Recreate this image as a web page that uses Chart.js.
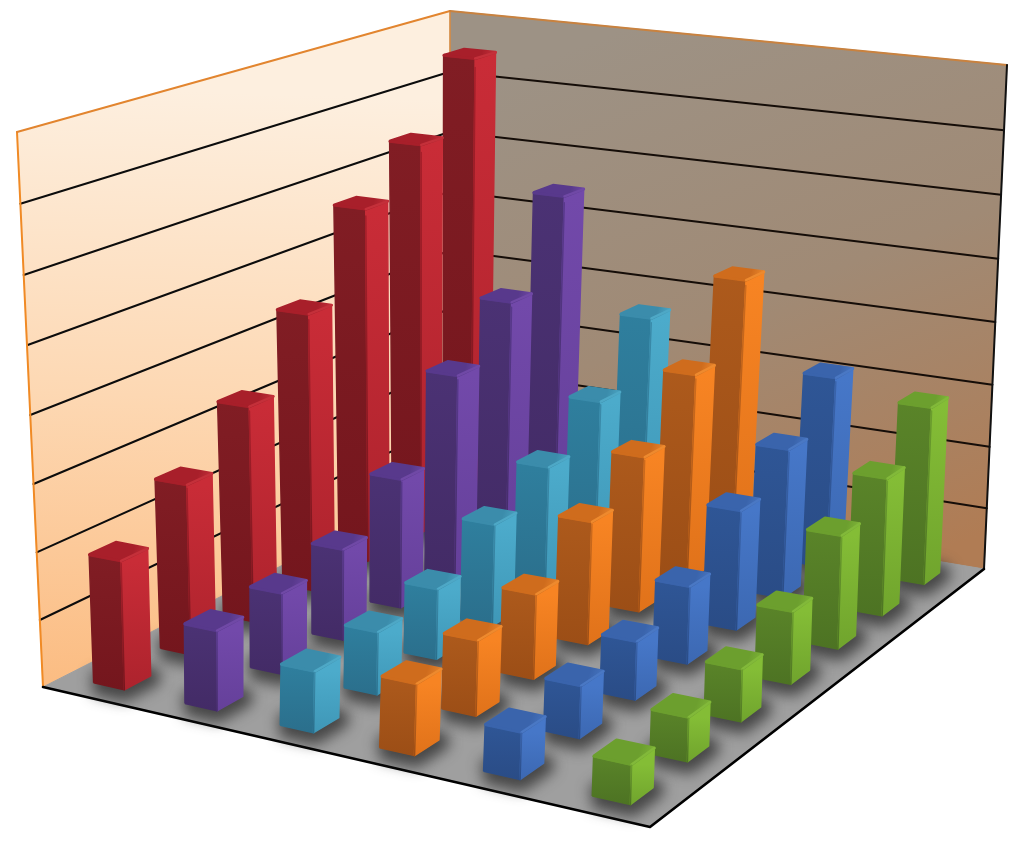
<!DOCTYPE html>
<html><head><meta charset="utf-8">
<style>html,body{margin:0;padding:0;background:#fff}canvas{display:block}</style>
<script src="https://cdn.jsdelivr.net/npm/chart.js@4/dist/chart.umd.min.js"></script>
</head><body><canvas id="c" width="1024" height="841"></canvas>
<script>
const categories = ['1','2','3','4','5','6','7'];
const seriesNames = ['Red','Purple','Teal','Orange','Blue','Green'];
const valueTicks = [1,2,3,4,5,6,7,8];
const redValues    = [1.91,2.58,3.34,4.38,5.68,6.39,7.5];
const purpleValues = [1.17,1.22,1.4,2.03,3.25,4.05,5.43];
const tealValues   = [0.88,0.93,1.07,1.58,2.03,2.66,3.63];
const orangeValues = [1.01,1.1,1.27,1.88,2.43,3.31,4.45];
const blueValues   = [0.65,0.75,0.86,1.17,1.85,2.36,3.09];
const greenValues  = [0.54,0.62,0.76,1.08,1.73,2.15,2.84];
const allValues = [redValues,purpleValues,tealValues,orangeValues,blueValues,greenValues];

const palette = [
 {l:['#811d24','#74161d'],r:['#c92c37','#ad232d'],t:'#a81f2a',e:'#c4303a'},
 {l:['#4b3274','#432b66'],r:['#7249aa','#65409a'],t:'#58398c',e:'#7049a6'},
 {l:['#2f7f9e','#2b6f8c'],r:['#4cabcb','#3f97b7'],t:'#3b8cab',e:'#4ea8c6'},
 {l:['#ad5a1c','#9c4e16'],r:['#f78423','#e0721a'],t:'#cf6c1d',e:'#ee8a2e'},
 {l:['#2f5696','#2a4c86'],r:['#4677c8','#3c68b2'],t:'#3a64ac',e:'#4a78c4'},
 {l:['#5a8429','#4d7323'],r:['#84bd36','#70a42d'],t:'#6c9f2e',e:'#82b93a'}
];

const FLOOR = [[43,687],[650,827],[984,569],[450,480]];
const CEIL  = [[17,132],[668,197],[1007,65],[450,11]];
function quadMap(q){
 const [[x0,y0],[x1,y1],[x2,y2],[x3,y3]] = q;
 const dx1=x1-x2,dx2=x3-x2,sx=x0-x1+x2-x3,dy1=y1-y2,dy2=y3-y2,sy=y0-y1+y2-y3;
 const det=dx1*dy2-dx2*dy1;
 const g=(sx*dy2-dx2*sy)/det,h=(dx1*sy-sx*dy1)/det;
 const a=x1-x0+g*x1,b=x3-x0+h*x3,d=y1-y0+g*y1,e=y3-y0+h*y3;
 return (u,v)=>{const w=g*u+h*v+1;return [(a*u+b*v+x0)/w,(d*u+e*v+y0)/w];};
}
const floorMap=quadMap(FLOOR), ceilMap=quadMap(CEIL);
const TOPV=8;
function project(u,v,h){
 const f=floorMap(u,v),c=ceilMap(u,v),r=h/TOPV,t=r*(0.96+0.04*r);
 return {x:f[0]+(c[0]-f[0])*t,y:f[1]+(c[1]-f[1])*t};
}
const canvas=document.getElementById('c'),ctx=canvas.getContext('2d');
function grad(x0,y0,x1,y1,stops){
 const g=ctx.createLinearGradient(x0,y0,x1,y1);
 stops.forEach(s=>g.addColorStop(s[0],s[1]));return g;
}
const LINE={showLine:true,pointRadius:0,pointHoverRadius:0,borderDash:[100000],tension:0,fill:false};
function poly(pts,fillC,edge,w){
 return Object.assign({},LINE,{data:pts.concat([pts[0]]),fill:'shape',backgroundColor:fillC,borderColor:edge||fillC,borderWidth:w===undefined?1:w,borderJoinStyle:'round'});
}
function stroke(pts,col,w){
 return Object.assign({},LINE,{data:pts,borderColor:col,borderWidth:w,borderCapStyle:'round',borderJoinStyle:'round'});
}
const mid=(a,b,k)=>({x:a.x+(b.x-a.x)*k,y:a.y+(b.y-a.y)*k});
const paint=[];
paint.push(poly([project(0,0,0),project(0,1,0),project(0,1,TOPV),project(0,0,TOPV)],
 grad(150,90,130,700,[[0,'#fdefdf'],[0.5,'#fdd8b3'],[1,'#fbbb80']])));
paint.push(poly([project(0,1,0),project(1,1,0),project(1,1,TOPV),project(0,1,TOPV)],
 grad(620,30,840,590,[[0,'#9d9285'],[0.5,'#a08a75'],[1,'#b07c54']])));
paint.push(poly([project(0,0,0),project(1,0,0),project(1,1,0),project(0,1,0)],'#9f9f9f'));
valueTicks.forEach(t=>{
 if(t<TOPV){
  paint.push(stroke([project(0,0,t),project(0,1,t)],'#0c0c0c',2.1));
  paint.push(stroke([project(0,1,t),project(1,1,t)],'#150d08',2.1));
 }
});
paint.push(stroke([project(0,0,0),project(0,0,TOPV)],'#f08a25',2));
paint.push(stroke([project(0,1,0),project(0,1,TOPV)],'#e08a3a',1.4));
paint.push(stroke([project(0,0,TOPV),project(0,1,TOPV)],'#e2852f',2));
paint.push(stroke([project(0,1,TOPV),project(1,1,TOPV)],'#c9823f',2));
paint.push(stroke([project(1,1,TOPV),project(1,1,0)],'#111',2));
paint.push(stroke([project(0,0,0),project(1,0,0),project(1,1,0)],'#000',2.6));

const NS=seriesNames.length,NC=categories.length,HS=0.17/NS,HC=0.195/NC;
const cell=(s,c)=>[(s+0.5)/NS,(c+0.5)/NC];
allValues.forEach((vals,s)=>vals.forEach((val,c)=>{
 const [u,v]=cell(s,c),o=0.004;
 const pts=[project(u-HS+o,v-HC-o,0),project(u+HS+o,v-HC-o,0),project(u+HS+o,v+HC-o,0),project(u-HS+o,v+HC-o,0)];
 paint.push(Object.assign(poly(pts,'rgba(0,0,0,0)','rgba(40,40,40,0.75)',20),{fill:false,blurPx:7}));
}));
allValues.forEach((vals,s)=>{
 for(let c=NC-1;c>=0;c--){
  const val=vals[c],[u,v]=cell(s,c),p=palette[s];
  const bl=project(u-HS,v-HC,0),bf=project(u+HS,v-HC,0),br=project(u+HS,v+HC,0);
  const tl=project(u-HS,v-HC,val),tf=project(u+HS,v-HC,val),tr=project(u+HS,v+HC,val),tb=project(u-HS,v+HC,val);
  paint.push(poly([bl,bf,tf,tl],grad(0,tl.y,0,bf.y,[[0,p.l[0]],[1,p.l[1]]]),undefined,1.5));
  paint.push(poly([bf,br,tr,tf],grad(0,tf.y,0,bf.y,[[0,p.r[0]],[1,p.r[1]]]),undefined,1.5));
  paint.push(poly([tl,tf,tr,tb],grad(tl.x,tb.y,tr.x,tf.y,[[0,p.t],[0.72,p.t],[1,p.e]]),undefined,3));
  paint.push(stroke([tl,tf],p.t,2.4));
  paint.push(stroke([tf,tr],p.e,2.4));
  paint.push(stroke([mid(tf,bf,0.02),bf],grad(0,tf.y,0,bf.y,[[0,p.t],[1,p.l[1]]]),1.6));
 }
});
const datasets=paint.slice().reverse();
const blurPlugin={id:'floorBlur',
 beforeDatasetDraw(ch,a){const d=ch.data.datasets[a.index];if(d.blurPx){ch.ctx.save();ch.ctx.filter='blur('+d.blurPx+'px)';}},
 afterDatasetDraw(ch,a){const d=ch.data.datasets[a.index];if(d.blurPx){ch.ctx.restore();}}
};
new Chart(ctx,{type:'line',data:{datasets},plugins:[blurPlugin],options:{
 responsive:false,animation:false,events:[],layout:{padding:0},
 plugins:{legend:{display:false},tooltip:{enabled:false},title:{display:false}},
 scales:{x:{type:'linear',min:0,max:1024,display:false},y:{type:'linear',min:0,max:841,reverse:true,display:false}}
}});
</script></body></html>
